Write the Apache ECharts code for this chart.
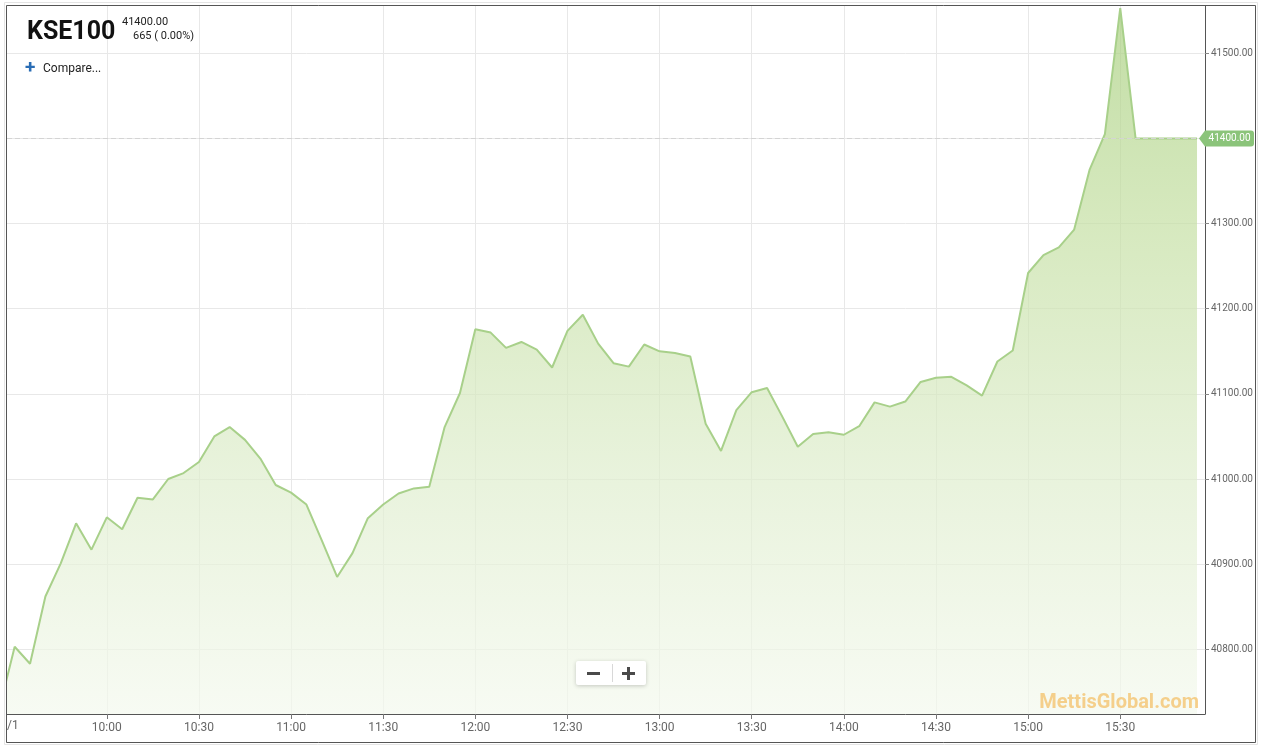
<!DOCTYPE html>
<html><head><meta charset="utf-8">
<script src="https://cdn.jsdelivr.net/npm/echarts@6/dist/echarts.min.js"></script>
<style>html,body{margin:0;padding:0;background:#fff}#c{width:1261px;height:748px}</style>
</head><body><div id="c"></div>
<script>
const times = ['09:25','09:30','09:35','09:40','09:45','09:50','09:55',
'10:00','10:05','10:10','10:15','10:20','10:25','10:30','10:35','10:40','10:45','10:50','10:55',
'11:00','11:05','11:10','11:15','11:20','11:25','11:30','11:35','11:40','11:45','11:50','11:55',
'12:00','12:05','12:10','12:15','12:20','12:25','12:30','12:35','12:40','12:45','12:50','12:55',
'13:00','13:05','13:10','13:15','13:20','13:25','13:30','13:35','13:40','13:45','13:50','13:55',
'14:00','14:05','14:10','14:15','14:20','14:25','14:30','14:35','14:40','14:45','14:50','14:55',
'15:00','15:05','15:10','15:15','15:20','15:25','15:30','15:35','15:40','15:45','15:50','15:55'];
const values = [40730,40803,40783,40862,40901,40948,40917,
40955,40941,40978,40976,41000,41007,41020,41050,41061,41046,41024,40993,
40984,40970,40928,40885,40913,40954,40970,40983,40989,40991,41061,41101,
41176,41172,41154,41161,41152,41131,41174,41193,41159,41136,41132,41158,
41150,41148,41144,41065,41033,41081,41102,41107,41073,41038,41053,41055,
41052,41062,41090,41085,41091,41114,41119,41120,41110,41098,41138,41151,
41242,41263,41272,41293,41363,41405,41553,41400,41400,41400,41400,41400];
const xTickLabels = ['10:00','10:30','11:00','11:30','12:00','12:30','13:00','13:30','14:00','14:30','15:00','15:30'];
const yTickValues = [40800,40900,41000,41100,41200,41300,41400,41500];
const symbolName = 'KSE100';
const lastPriceText = '41400.00';
const changeText = '665 ( 0.00%)';
const compareText = 'Compare...';
const dateFragment = '/1';
const watermarkText = 'MettisGlobal.com';
const lastValue = 41400;

const toMin = s => { const [h, m] = s.split(':').map(Number); return h * 60 + m; };
const fmt = v => { const h = Math.floor(v / 60), m = Math.round(v - h * 60); return (h < 10 ? '0' + h : h) + ':' + (m < 10 ? '0' + m : m); };
const seriesData = times.map((t, i) => [toMin(t), values[i]]);
const xTicks = xTickLabels.map(toMin);
const lastTime = toMin(times[times.length - 1]);

const chart = echarts.init(document.getElementById('c'), null, {renderer: 'canvas'});
const FF = 'Roboto, "Noto Sans", sans-serif';
const gridCol = '#e8e8e8';
const tagPath = 'path://M0,8 L6,0 L52,0 Q55,0 55,3 L55,13 Q55,16 52,16 L6,16 Z';

chart.setOption({
  animation: false,
  backgroundColor: '#fff',
  grid: {left: 7, right: 56, top: 6, bottom: 34},
  xAxis: {
    type: 'value', min: 567.5, max: 957.6,
    axisLine: {show: true, onZero: false, lineStyle: {color: '#555', width: 1}},
    axisTick: {show: true, length: 5, lineStyle: {color: '#777'}, customValues: xTicks},
    axisLabel: {customValues: xTicks, formatter: v => fmt(v), color: '#666', fontSize: 12, fontFamily: FF, margin: 8},
    splitLine: {show: true, lineStyle: {color: gridCol, width: 1}}
  },
  yAxis: {
    type: 'value', position: 'right', min: 40724, max: 41555.6,
    axisLine: {show: true, lineStyle: {color: '#555', width: 1}},
    axisTick: {show: true, length: 4, lineStyle: {color: '#888'}, customValues: yTickValues},
    axisLabel: {customValues: yTickValues, formatter: v => v.toFixed(2), color: '#666', fontSize: 10, fontFamily: FF, margin: 6},
    splitLine: {show: true, lineStyle: {color: gridCol, width: 1}}
  },
  series: [{
    type: 'line', data: seriesData, showSymbol: false, symbol: 'none', clip: true,
    lineStyle: {color: '#a8d08a', width: 2},
    areaStyle: {color: {type: 'linear', x: 0, y: 0, x2: 0, y2: 1, colorStops: [
      {offset: 0, color: '#a8cf7e'}, {offset: 0.3, color: '#c4dfa2'}, {offset: 0.65, color: '#deedcc'}, {offset: 1, color: '#f4f9ee'}]}},
    markLine: {
      silent: true, symbol: 'none', label: {show: false}, z: 5,
      lineStyle: {color: '#d4d4d4', type: [5, 3], width: 1},
      data: [{yAxis: lastValue}]
    },
    markPoint: {
      silent: true,
      data: [{coord: [lastTime, lastValue], value: lastValue}],
      symbol: tagPath, symbolSize: [55, 16], symbolKeepAspect: false, symbolOffset: [29.5, 0],
      itemStyle: {color: '#8bc47a'},
      label: {show: true, position: 'inside', offset: [3, 0], formatter: p => p.value.toFixed(2), color: '#fff', fontSize: 10, fontFamily: FF}
    }
  }],
  graphic: [
    {id: 'frame', type: 'rect', z: 100, silent: true, shape: {x: 6.5, y: 5.5, width: 1249, height: 737},
      style: {fill: 'none', stroke: '#555', lineWidth: 1}},
    {id: 'frame2', type: 'rect', z: 99, silent: true, shape: {x: 4.5, y: 2.5, width: 1253, height: 742},
      style: {fill: 'none', stroke: '#e4e4e4', lineWidth: 1}},
    {id: 'title', type: 'text', left: 27, top: 20, z: 50,
      style: {text: symbolName, font: 'bold 25px ' + FF, fill: '#111'}},
    {id: 'price', type: 'text', left: 122, top: 17, z: 50,
      style: {text: lastPriceText, font: '11px ' + FF, fill: '#222'}},
    {id: 'chg', type: 'text', left: 133, top: 31, z: 50,
      style: {text: changeText, font: '11px ' + FF, fill: '#222'}},
    {id: 'plus', type: 'text', left: 25, top: 59, z: 50,
      style: {text: '+', font: 'bold 19px ' + FF, fill: '#2a6db5'}},
    {id: 'cmp', type: 'text', left: 43, top: 63, z: 50,
      style: {text: compareText, font: '12px ' + FF, fill: '#222'}},
    {id: 'datefrag', type: 'text', left: 7, top: 720, z: 50,
      style: {text: dateFragment, font: '12px ' + FF, fill: '#666'}},
    {id: 'wm', type: 'text', right: 62, top: 693, z: 40,
      style: {text: watermarkText, font: 'bold 20px ' + FF, fill: 'rgba(243,178,70,0.6)'}},
    {id: 'zoom', type: 'group', left: 576, top: 661, z: 60, children: [
      {type: 'rect', z: 60, shape: {x: 0, y: 0, width: 70, height: 24, r: 2},
        style: {fill: '#fff', shadowBlur: 4, shadowColor: 'rgba(0,0,0,0.2)', shadowOffsetY: 1}},
      {type: 'line', z: 61, shape: {x1: 36.5, y1: 3, x2: 36.5, y2: 21}, style: {stroke: '#d8d8d8', lineWidth: 1}},
      {type: 'rect', z: 62, shape: {x: 11, y: 11, width: 13, height: 3}, style: {fill: '#4a4a4a'}},
      {type: 'rect', z: 62, shape: {x: 46, y: 11, width: 13, height: 3}, style: {fill: '#4a4a4a'}},
      {type: 'rect', z: 62, shape: {x: 51, y: 6, width: 3, height: 13}, style: {fill: '#4a4a4a'}}
    ]}
  ]
});
</script></body></html>
